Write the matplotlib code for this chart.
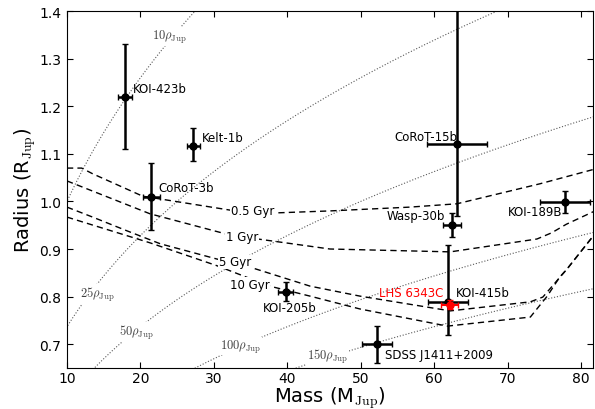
import numpy as np
import matplotlib
matplotlib.use("Agg")
import matplotlib.pyplot as plt

plt.rcParams['mathtext.fontset'] = 'cm'
plt.rcParams['font.family'] = 'DejaVu Sans'

# objects: mass (MJup), radius (RJup) and errors
names = ["KOI-423b", "Kelt-1b", "CoRoT-3b", "CoRoT-15b", "Wasp-30b",
         "KOI-189B", "KOI-415b", "KOI-205b", "SDSS J1411+2009"]
mass = [17.9, 27.2, 21.5, 63.1, 62.4, 77.8, 61.9, 39.8, 52.2]
mass_err = [0.95, 0.9, 1.1, 4.1, 1.2, 3.4, 2.7, 1.0, 2.0]
radius = [1.22, 1.116, 1.01, 1.12, 0.951, 0.999, 0.789, 0.810, 0.700]
rad_lo = [0.11, 0.031, 0.07, 0.15, 0.025, 0.023, 0.07, 0.02, 0.039]
rad_hi = [0.11, 0.038, 0.07, 0.30, 0.025, 0.023, 0.12, 0.02, 0.039]
label_x = [19.0, 28.4, 22.5, 63.1, 61.5, 77.4, 63.0, 36.7, 53.3]
label_y = [1.238, 1.135, 1.030, 1.137, 0.971, 0.978, 0.808, 0.778, 0.679]
label_ha = ["left", "left", "left", "right", "right", "right", "left", "left", "left"]

# LHS 6343C
lhs_mass, lhs_mass_err = 62.1, 1.2
lhs_rad, lhs_rad_err = 0.783, 0.01

# isochrones
iso_ages = ["0.5 Gyr", "1 Gyr", "5 Gyr", "10 Gyr"]
iso_mass = [
    [10, 12.0, 13.5, 20.3, 32.9, 38.7, 45.8, 56.7, 63.1, 74.4, 81.9],
    [10, 21.3, 31.8, 36.0, 45.8, 56.7, 62.2, 74.0, 76.0, 78.0, 81.9],
    [10, 13.5, 18.2, 22.7, 30.4, 34.9, 43.1, 49.9, 62.2, 73.1, 74.8, 76.7, 78.1, 81.9],
    [10, 21.3, 30.4, 37.6, 43.1, 49.9, 61.8, 73.1, 75.4, 77.1, 78.1, 81.9],
]
iso_rad = [
    [1.070, 1.070, 1.058, 1.011, 0.980, 0.976, 0.980, 0.988, 0.995, 1.037, 1.068],
    [1.043, 0.974, 0.931, 0.921, 0.900, 0.896, 0.894, 0.921, 0.934, 0.952, 0.980],
    [0.988, 0.967, 0.938, 0.911, 0.879, 0.862, 0.822, 0.801, 0.770, 0.789, 0.799, 0.833, 0.858, 0.932],
    [0.967, 0.913, 0.865, 0.822, 0.801, 0.774, 0.738, 0.757, 0.801, 0.841, 0.858, 0.932],
]
iso_lab_x = [35.3, 33.8, 32.9, 34.9]
iso_lab_y = [0.980, 0.927, 0.873, 0.826]

# constant density lines (in units of rho_Jup)
densities = [10, 25, 50, 100, 150]
dens_lab_x = [24.0, 14.1, 19.5, 33.6, 45.5]
dens_lab_y = [1.347, 0.805, 0.726, 0.696, 0.675]

fig = plt.figure(figsize=(5.95, 4.10), dpi=100)
ax = fig.add_axes([0.1126, 0.1, 0.8840, 0.8707])

m = np.linspace(5, 90, 400)
for n, lx, ly in zip(densities, dens_lab_x, dens_lab_y):
    ax.plot(m, (m / n) ** (1.0 / 3.0), ls=':', color='0.35', lw=0.8, zorder=1)
    ax.text(lx, ly, r"$%d\rho_{\rm Jup}$" % n, fontsize=9, color='0.25',
            ha='center', va='center', zorder=2,
            bbox=dict(fc='white', ec='none', pad=0.5))

for mm, rr, age, lx, ly in zip(iso_mass, iso_rad, iso_ages, iso_lab_x, iso_lab_y):
    ax.plot(mm, rr, color='black', lw=1.0, dashes=(4.5, 3), zorder=3)
    ax.text(lx, ly, age, fontsize=8.5, ha='center', va='center', zorder=4,
            bbox=dict(fc='white', ec='none', pad=0.5))

ax.errorbar(mass, radius, xerr=mass_err, yerr=[rad_lo, rad_hi], fmt='o',
            color='black', ms=5, elinewidth=1.8, capsize=2, capthick=1, zorder=5)
for nm, lx, ly, ha in zip(names, label_x, label_y, label_ha):
    ax.text(lx, ly, nm, fontsize=8.5, ha=ha, va='center', zorder=6)

ax.errorbar([lhs_mass], [lhs_rad], xerr=[lhs_mass_err], yerr=[lhs_rad_err], fmt='o',
            color='red', ms=5, elinewidth=1.5, capsize=2, capthick=1, zorder=7)
ax.text(61.2, 0.808, "LHS 6343C", color='red', fontsize=8.5, ha='right', va='center', zorder=6)

ax.set_xlim(10, 81.63)
ax.set_ylim(0.65, 1.4)
ax.set_xticks(range(10, 81, 10))
ax.set_yticks([0.7, 0.8, 0.9, 1.0, 1.1, 1.2, 1.3, 1.4])
ax.tick_params(direction='in', top=True, right=True, length=4, labelsize=10)
ax.tick_params(axis='x', pad=2)
ax.tick_params(axis='y', pad=4)
ax.set_xlabel(r"Mass (M$_{\rm Jup}$)", fontsize=14, labelpad=0)
ax.set_ylabel(r"Radius (R$_{\rm Jup}$)", fontsize=14, labelpad=1)

fig.savefig("out.png", dpi=100)
